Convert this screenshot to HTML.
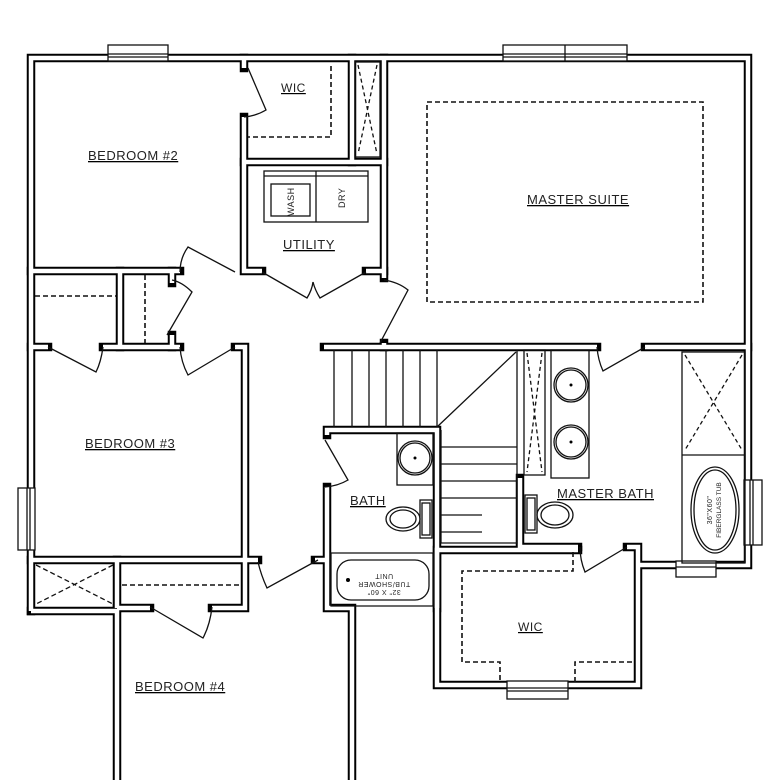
<!DOCTYPE html>
<html><head><meta charset="utf-8"><style>
html,body{margin:0;padding:0;background:#fff}
svg{display:block}
text{font-family:"Liberation Sans",sans-serif;fill:#222;letter-spacing:0.5px}
</style></head><body>
<svg width="780" height="780" viewBox="0 0 780 780" xmlns="http://www.w3.org/2000/svg">
<defs>
<g id="walls" fill="none">
<path d="M31 611 V58 H748 V565 H640"/>
<path d="M627 547 H638 V685 H437 V550 H578"/>
<path d="M31 611 H117 V780"/>
<path d="M352 780 V608 H327 V487"/>
<path d="M327 435 V430 H437 V608"/>
<path d="M117 608 H150"/>
<path d="M212 608 H245 V562"/>
<path d="M245 560 H258"/>
<path d="M315 560 H327"/>
<path d="M117 560 V608"/>
<path d="M31 560 H245 V347 H235"/>
<path d="M31 347 H48"/>
<path d="M103 347 H180"/>
<path d="M31 271 H180"/>
<path d="M120 271 V347"/>
<path d="M172 271 V283"/>
<path d="M172 335 V347"/>
<path d="M244 58 V68"/>
<path d="M244 117 V271 H262"/>
<path d="M244 162 H384"/>
<path d="M352 58 V162"/>
<path d="M384 58 V278"/>
<path d="M366 271 H384"/>
<path d="M324 347 H597"/>
<path d="M384 343 V347"/>
<path d="M645 347 H748"/>
<path d="M520 478 V547 H578"/>
</g>
</defs>
<use href="#walls" stroke="#000" stroke-width="8.5" stroke-linecap="square" stroke-linejoin="miter"/>
<use href="#walls" stroke="#fff" stroke-width="4.5" stroke-linecap="butt" stroke-linejoin="miter"/>

<g fill="none" stroke="#111" stroke-width="1.3">
<rect x="108" y="45" width="60" height="16" fill="#fff"/>
<line x1="108" y1="54" x2="168" y2="54"/><line x1="108" y1="57" x2="168" y2="57"/>
<rect x="503" y="45" width="124" height="16" fill="#fff"/>
<line x1="503" y1="54" x2="627" y2="54"/><line x1="503" y1="57" x2="627" y2="57"/><line x1="565" y1="45" x2="565" y2="61"/>
<rect x="18" y="488" width="17" height="62" fill="#fff"/>
<line x1="27" y1="488" x2="27" y2="550"/><line x1="30" y1="488" x2="30" y2="550"/>
<rect x="744" y="480" width="18" height="65" fill="#fff"/>
<line x1="750" y1="480" x2="750" y2="545"/><line x1="753" y1="480" x2="753" y2="545"/>
<rect x="676" y="561" width="40" height="16" fill="#fff"/>
<line x1="676" y1="567" x2="716" y2="567"/>
<rect x="507" y="681" width="61" height="18" fill="#fff"/>
<line x1="507" y1="688" x2="568" y2="688"/><line x1="507" y1="691" x2="568" y2="691"/>

<rect x="355" y="62" width="25" height="95"/>
<path d="M331 66 V137 H248" stroke-dasharray="5,3" stroke-width="1.6"/>
<path d="M358 65 L377 154 M377 65 L358 154" stroke-dasharray="4,3"/>
<rect x="264" y="171" width="104" height="51"/>
<line x1="264" y1="176" x2="368" y2="176"/>
<line x1="316" y1="171" x2="316" y2="222"/>
<rect x="271" y="184" width="39" height="32"/>
<rect x="427" y="102" width="276" height="200" stroke-dasharray="5,3" stroke-width="1.6"/>
<line x1="35" y1="296" x2="116" y2="296" stroke-dasharray="5,3" stroke-width="1.6"/>
<line x1="145" y1="275" x2="145" y2="343" stroke-dasharray="5,3" stroke-width="1.6"/>
<path d="M36 565 L113 604 M113 565 L36 604" stroke-dasharray="5,3"/>
<line x1="122" y1="585" x2="241" y2="585" stroke-dasharray="5,3" stroke-width="1.6"/>
<path d="M248 68 L266 110 Q256 116 244 117"/>
<path d="M235 272 L188 247 Q180 258 180 272"/>
<path d="M167 335 L192 292 Q182 282 172 280"/>
<path d="M262 272 L307 298 Q312 290 313 282"/>
<path d="M366 272 L320 298 Q315 290 313 282"/>
<path d="M380 343 L408 290 Q398 282 384 280"/>
<path d="M48 347 L96 372 Q101 362 103 347"/>
<path d="M235 347 L188 375 Q181 362 180 347"/>
<path d="M150 607 L203 638 Q210 625 212 607"/>
<path d="M318 560 L267 588 Q261 575 258 562"/>
<path d="M325 440 L348 480 Q338 486 325 487"/>
<path d="M627 547 L585 572 Q580 560 580 547"/>
<path d="M645 347 L603 371 Q598 360 597 347"/>
<path d="M334 350 V427 M352 350 V427 M369 350 V427 M386 350 V427 M403 350 V427 M420 350 V427 M437 350 V427"/>
<line x1="437" y1="427" x2="516" y2="352"/>
<path d="M517 350 V543 H441 V430"/>
<path d="M441 447 H517 M441 464 H517 M441 481 H517 M441 498 H517 M441 515 H482 M441 532 H482"/>
<rect x="397" y="433" width="36" height="52"/>
<circle cx="415" cy="458" r="17"/><circle cx="415" cy="458" r="15"/>
<rect x="420" y="500" width="12" height="38"/><rect x="422" y="503" width="8" height="32"/>
<ellipse cx="403" cy="519" rx="17" ry="12"/><ellipse cx="403" cy="519" rx="13" ry="9"/>
<path d="M331 553 H433 V606 H331 Z"/>
<rect x="337" y="560" width="92" height="40" rx="14"/>
<rect x="524" y="350" width="21" height="125"/>
<path d="M527 353 L542 472 M542 353 L527 472" stroke-dasharray="4,3"/>
<rect x="551" y="350" width="38" height="128"/>
<circle cx="571" cy="385" r="17"/><circle cx="571" cy="385" r="15"/>
<circle cx="571" cy="442" r="17"/><circle cx="571" cy="442" r="15"/>
<rect x="525" y="495" width="12" height="38"/><rect x="527" y="498" width="8" height="32"/>
<ellipse cx="555" cy="515" rx="18" ry="13"/><ellipse cx="555" cy="515" rx="14" ry="10"/>
<rect x="682" y="352" width="63" height="211"/>
<line x1="682" y1="455" x2="745" y2="455"/>
<path d="M685 355 L742 450 M742 355 L685 450" stroke-dasharray="4,3"/>
<ellipse cx="715" cy="510" rx="24" ry="43"/><ellipse cx="715" cy="510" rx="21" ry="40"/>
<path d="M573 552 V571 H462 V662 H500 V682 M575 682 V662 H633" stroke-dasharray="5,3" stroke-width="1.6"/>
</g>
<g fill="#000"><circle cx="415" cy="458" r="1.5"/><circle cx="571" cy="385" r="1.5"/><circle cx="571" cy="442" r="1.5"/><circle cx="348" cy="580" r="2"/></g>

<g text-decoration="underline" style="font-size:13px">
<text x="88" y="160">BEDROOM #2</text>
<text x="281" y="92" style="font-size:12px">WIC</text>
<text x="283" y="249">UTILITY</text>
<text x="527" y="204">MASTER SUITE</text>
<text x="85" y="448">BEDROOM #3</text>
<text x="135" y="691">BEDROOM #4</text>
<text x="350" y="505">BATH</text>
<text x="557" y="498">MASTER BATH</text>
<text x="518" y="631" style="font-size:12px">WIC</text>
</g>
<text style="font-size:9px" transform="translate(294,216) rotate(-90)">WASH</text>
<text style="font-size:9px" transform="translate(345,208) rotate(-90)">DRY</text>
<text style="font-size:7px" text-anchor="middle" transform="translate(384,590) rotate(180)">32" X 60"</text>
<text style="font-size:7px" text-anchor="middle" transform="translate(384,582) rotate(180)">TUB/SHOWER</text>
<text style="font-size:7px" text-anchor="middle" transform="translate(384,574) rotate(180)">UNIT</text>
<text style="font-size:7px" text-anchor="middle" transform="translate(712,510) rotate(-90)">36"X60"</text>
<text style="font-size:6.5px;letter-spacing:0" text-anchor="middle" transform="translate(721,510) rotate(-90)">FIBERGLASS TUB</text>
</svg>
</body></html>
